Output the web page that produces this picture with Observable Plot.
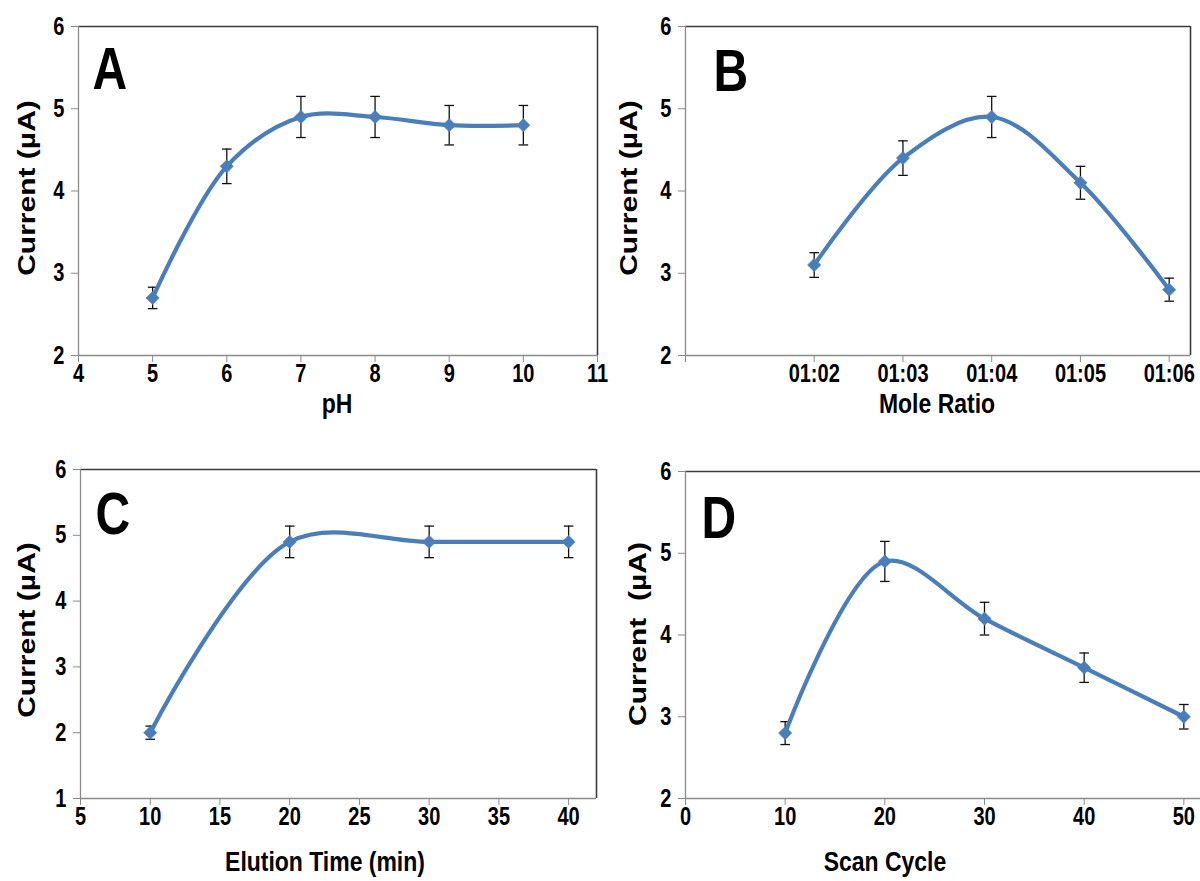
<!DOCTYPE html>
<html>
<head>
<meta charset="utf-8">
<script src="https://cdn.jsdelivr.net/npm/d3@7"></script>
<script src="https://cdn.jsdelivr.net/npm/@observablehq/plot@0.6"></script>
<style>
  html, body { margin: 0; padding: 0; background: #fff; }
  body { width: 1200px; height: 881px; overflow: hidden; position: relative; }
  .panel { position: absolute; }
  .panel svg { max-width: none !important; }
  .title { position: absolute; white-space: pre; line-height: 1;
           font-family: "Liberation Sans", Arial, sans-serif; font-weight: bold; color: #000; }
  .xt { font-size: 28px; transform: translate(-50%, -50%) scaleX(0.82); }
  .yt { font-size: 30px; transform: translate(-50%, -50%) rotate(-90deg) scaleY(0.82); }
</style>
</head>
<body>
<script>
// ---- Data ----
const pH = [5, 6, 7, 8, 9, 10];
const currentA = [2.7, 4.3, 4.9, 4.9, 4.8, 4.8];
const errA = [0.13, 0.21, 0.25, 0.25, 0.24, 0.24];

const moleRatio = [2, 3, 4, 5, 6];
const moleRatioLabels = ["01:02", "01:03", "01:04", "01:05", "01:06"];
const currentB = [3.1, 4.4, 4.9, 4.1, 2.8];
const errB = [0.15, 0.21, 0.25, 0.2, 0.14];

const elutionTime = [10, 20, 30, 40];
const currentC = [2.0, 4.9, 4.9, 4.9];
const errC = [0.1, 0.24, 0.24, 0.24];

const scanCycle = [10, 20, 30, 40, 50];
const currentD = [2.8, 4.9, 4.2, 3.6, 3.0];
const errD = [0.14, 0.245, 0.2, 0.18, 0.15];

// tick values
const ticksXA = [4, 5, 6, 7, 8, 9, 10, 11];
const ticksXB = [2, 3, 4, 5, 6];
const ticksXC = [5, 10, 15, 20, 25, 30, 35, 40];
const ticksXD = [0, 10, 20, 30, 40, 50];
const ticksY26 = [2, 3, 4, 5, 6];
const ticksY16 = [1, 2, 3, 4, 5, 6];

const BLUE = "#4a7ebb";
const AXIS = "#8a8a8a";
const BORDER = "#3c3c3c";
const FONT = '"Liberation Sans", Arial, sans-serif';
const SQUEEZE = 0.8;
const TICK_FONT = 25;

const capSymbol = {
  draw(ctx, size) {
    const h = Math.sqrt(size / Math.PI);
    ctx.moveTo(-h, 0);
    ctx.lineTo(h, 0);
  }
};

function panel({xs, ys, errs, xDomain, yDomain, xTicks, yTicks, xFormat, extraXTicks, letter, letterDx, letterDy,
                width, height, margin}) {
  const data = xs.map((x, i) => ({x, y: ys[i], lo: ys[i] - errs[i], hi: ys[i] + errs[i]}));
  const marks = [
    Plot.ruleY([yDomain[1]], {stroke: BORDER, strokeWidth: 1.6}),
    Plot.ruleX([xDomain[1]], {stroke: BORDER, strokeWidth: 1.6}),
    Plot.ruleX([xDomain[0]], {stroke: AXIS, strokeWidth: 1.3}),
    Plot.ruleY([yDomain[0]], {stroke: AXIS, strokeWidth: 1.3}),
    Plot.axisY({ticks: yTicks, tickSize: 7, tickPadding: 7, stroke: AXIS, label: null,
      fontSize: TICK_FONT, fontWeight: "bold", tickFormat: d => String(d)}),
    Plot.axisX({ticks: xTicks, tickSize: 7, tickPadding: 2, stroke: AXIS, label: null,
      fontSize: TICK_FONT, fontWeight: "bold", tickFormat: xFormat || (d => String(d))}),
  ];
  if (extraXTicks) marks.push(Plot.axisX({ticks: extraXTicks, tickSize: 7, stroke: AXIS, label: null, tickFormat: () => ""}));
  marks.push(
    Plot.ruleX(data, {x: "x", y1: "lo", y2: "hi", stroke: "#111", strokeWidth: 1.3}),
    Plot.dot(data, {x: "x", y: "hi", symbol: capSymbol, r: 4.8, stroke: "#111", fill: "none", strokeWidth: 1.3}),
    Plot.dot(data, {x: "x", y: "lo", symbol: capSymbol, r: 4.8, stroke: "#111", fill: "none", strokeWidth: 1.3}),
    Plot.line(data, {x: "x", y: "y", curve: "catmull-rom", stroke: BLUE, strokeWidth: 4.2}),
    Plot.dot(data, {x: "x", y: "y", symbol: "diamond2", r: 6, fill: BLUE, stroke: BLUE, strokeWidth: 0.5}),
    Plot.text([letter], {frameAnchor: "top-left", dx: letterDx, dy: letterDy, textAnchor: "start", lineAnchor: "top",
      fontSize: 60, fontWeight: "bold", fill: "#000", fontFamily: FONT})
  );
  const svg = Plot.plot({
    width, height,
    marginLeft: margin[0], marginRight: margin[1], marginTop: margin[2], marginBottom: margin[3],
    x: {domain: xDomain},
    y: {domain: yDomain},
    style: {
      fontFamily: FONT, fontWeight: "bold", fontSize: TICK_FONT + "px", color: "#000",
      background: "transparent", overflow: "visible"
    },
    marks
  });
  // horizontally condensed lettering, as in the reference
  svg.querySelectorAll("text").forEach(t => {
    const tr = t.getAttribute("transform");
    if (tr) {
      t.setAttribute("transform", tr + ` scale(${SQUEEZE},1)`);
    } else {
      const x = +(t.getAttribute("x") || 0), y = +(t.getAttribute("y") || 0);
      t.removeAttribute("x"); t.removeAttribute("y");
      t.setAttribute("transform", `translate(${x},${y}) scale(${SQUEEZE},1)`);
    }
  });
  return svg;
}

function place(node, left, top) {
  const div = document.createElement("div");
  div.className = "panel";
  div.style.left = left + "px";
  div.style.top = top + "px";
  div.appendChild(node);
  document.body.appendChild(div);
}
function title(text, x, y, cls) {
  const d = document.createElement("div");
  d.className = "title " + cls;
  d.style.left = x + "px";
  d.style.top = y + "px";
  d.textContent = text;
  document.body.appendChild(d);
}

place(panel({xs: pH, ys: currentA, errs: errA, xDomain: [4, 11], yDomain: [2, 6],
  xTicks: ticksXA, yTicks: ticksY26, letter: "A", letterDx: 14, letterDy: 20,
  width: 600, height: 420, margin: [78, 3, 26, 65]}), 0, 0);

place(panel({xs: moleRatio, ys: currentB, errs: errB, xDomain: [0.55, 6.24], yDomain: [2, 6],
  xTicks: ticksXB, yTicks: ticksY26, xFormat: d => moleRatioLabels[moleRatio.indexOf(d)],
  extraXTicks: [0.55], letter: "B", letterDx: 28, letterDy: 22,
  width: 600, height: 420, margin: [85, 10, 26, 65]}), 600, 0);

place(panel({xs: elutionTime, ys: currentC, errs: errC, xDomain: [5, 42], yDomain: [1, 6],
  xTicks: ticksXC, yTicks: ticksY16, letter: "C", letterDx: 15, letterDy: 22,
  width: 600, height: 461, margin: [80, 4, 49, 83]}), 0, 420);

place(panel({xs: scanCycle, ys: currentD, errs: errD, xDomain: [0, 60], yDomain: [2, 6],
  xTicks: ticksXD, yTicks: ticksY26, letter: "D", letterDx: 16, letterDy: 24,
  width: 700, height: 461, margin: [85, 17, 51, 83]}), 600, 420);

title("pH", 337, 404, "xt");
title("Mole Ratio", 937, 404, "xt");
title("Elution Time (min)", 325, 862, "xt");
title("Scan Cycle", 885, 862, "xt");
title("Current (µA)", 27, 188, "yt");
title("Current (µA)", 629, 188, "yt");
title("Current (µA)", 27, 630, "yt");
title("Current  (µA)", 638, 634, "yt");
</script>
</body>
</html>
